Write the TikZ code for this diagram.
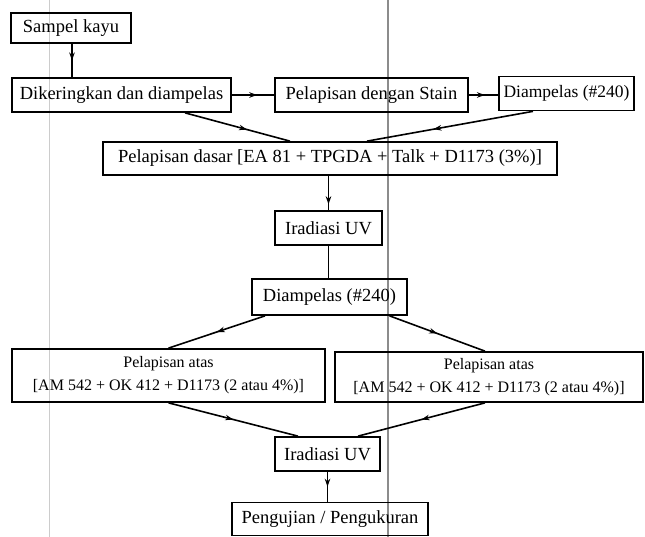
\documentclass[tikz,border=0pt]{standalone}
\usepackage{fontspec}
\setmainfont{Liberation Serif}
\usetikzlibrary{arrows.meta,decorations.markings,calc}
\tikzset{
  box/.style={draw,line width=1.7pt,inner sep=0pt,align=center,font=\fontsize{18.5}{22}\selectfont},
  smallbox/.style={box,font=\fontsize{16}{23}\selectfont},
  conn/.style={line width=1.6pt},
  midarrow/.style={conn,postaction={decorate},decoration={markings,mark=at position #1 with {\arrow{Stealth[length=8pt,width=5.5pt]}}}},
  midarrow/.default=0.55,
  foldline/.style={line width=1.3pt,draw=black!45},
}
\begin{document}
\begin{tikzpicture}[x=1pt,y=-1pt]
\useasboundingbox (0,0) rectangle (645,537);
\fill[white] (0,0) rectangle (645,537);
% scan fold lines
\draw[foldline] (388,0) -- (388,537);
\draw[line width=1pt,draw=black!20] (49,0) -- (49,537);
% boxes
\node[box,minimum width=120pt,minimum height=30pt] (sampel) at (71,28) {Sampel kayu};
\node[box,minimum width=219pt,minimum height=34pt] (diker) at (121.5,95) {Dikeringkan dan diampelas};
\node[box,minimum width=193pt,minimum height=34pt] (stain) at (371.5,95) {Pelapisan dengan Stain};
\node[box,minimum width=135pt,minimum height=34pt,font=\fontsize{17.5}{21}\selectfont] (diampA) at (566.5,93.5) {Diampelas (\#240)};
\node[box,minimum width=454pt,minimum height=33pt] (dasar) at (330,158.5) {Pelapisan dasar [EA 81 + TPGDA + Talk + D1173 (3\%)]};
\node[box,minimum width=107pt,minimum height=34pt] (iradA) at (328.5,228) {Iradiasi UV};
\node[box,minimum width=155pt,minimum height=36pt] (diampB) at (329.5,297) {Diampelas (\#240)};
\node[smallbox,minimum width=313pt,minimum height=53pt] (atasL) at (168.5,375.5) {Pelapisan atas\\{}[AM 542 + OK 412 + D1173 (2 atau 4\%)]};
\node[smallbox,minimum width=308pt,minimum height=50pt] (atasR) at (489,377) {Pelapisan atas\\{}[AM 542 + OK 412 + D1173 (2 atau 4\%)]};
\node[box,minimum width=105pt,minimum height=34pt] (iradB) at (327.5,454) {Iradiasi UV};
\node[box,minimum width=196pt,minimum height=33pt] (peng) at (330,519) {Pengujian / Pengukuran};
% connectors
\draw[midarrow=0.5] ([xshift=1pt]sampel.south) -- ([xshift=1pt]sampel.south |- diker.north);
\draw[midarrow=0.6] (diker.east) -- (diker.east -| stain.west);
\draw[midarrow=0.55] (stain.east) -- (stain.east -| diampA.west);
\draw[midarrow=0.59] ([xshift=63.5pt]diker.south) -- ([xshift=-40pt]dasar.north);
\draw[midarrow=0.6] ([xshift=-33.5pt]diampA.south) -- ([xshift=37pt]dasar.north);
\draw[midarrow=0.83] ([xshift=-1.5pt]dasar.south) -- ([xshift=-1.5pt]dasar.south |- iradA.north);
\draw[conn] (iradA.south) -- (iradA.south |- diampB.north);
\draw[midarrow=0.5] ([xshift=-64.5pt]diampB.south) -- (atasL.north);
\draw[midarrow=0.5] ([xshift=60pt]diampB.south) -- ([xshift=-4pt]atasR.north);
\draw[midarrow=0.5] (atasL.south) -- ([xshift=-29.5pt]iradB.north);
\draw[midarrow=0.5] ([xshift=-4pt]atasR.south) -- ([xshift=30.5pt]iradB.north);
\draw[midarrow=0.5] (iradB.south) -- (iradB.south |- peng.north);
\end{tikzpicture}
\end{document}
